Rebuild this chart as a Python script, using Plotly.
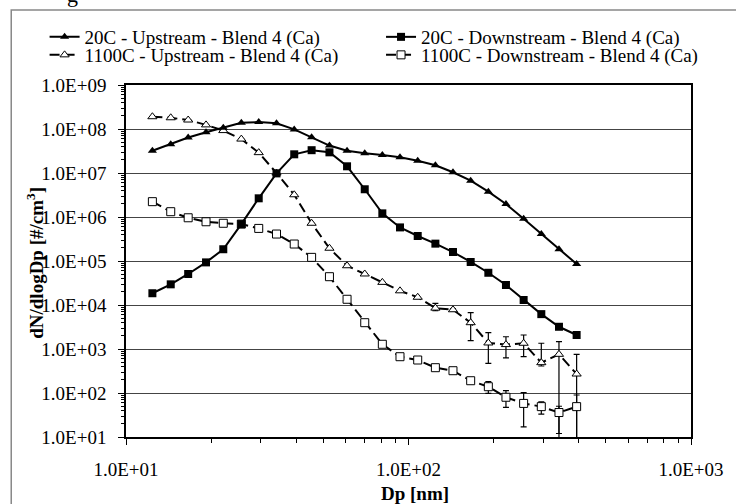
import plotly.graph_objects as go

# ---- data ----
dp_nm = [12.4, 14.4, 16.6, 19.2, 22.1, 25.6, 29.5, 34.1, 39.4, 45.4, 52.5, 60.6,
         70.0, 80.8, 93.3, 107.8, 124.5, 143.7, 166.0, 191.7, 221.3, 255.6,
         295.2, 340.9, 393.7]

up_20c = [3.2e7, 4.5e7, 6.4e7, 8.4e7, 1.07e8, 1.39e8, 1.44e8, 1.35e8, 9.8e7,
          6.5e7, 4.2e7, 3.2e7, 2.8e7, 2.57e7, 2.28e7, 1.9e7, 1.5e7, 1.04e7,
          6.7e6, 3.76e6, 1.97e6, 9.1e5, 4.1e5, 1.85e5, 8.55e4]

down_20c = [1.85e4, 2.95e4, 5.07e4, 9.3e4, 1.85e5, 6.9e5, 2.66e6, 9.8e6, 2.66e7,
            3.3e7, 2.95e7, 1.42e7, 4.27e6, 1.21e6, 5.8e5, 3.7e5, 2.48e5, 1.6e5,
            9.5e4, 5.4e4, 2.85e4, 1.3e4, 6.2e3, 3.2e3, 2.08e3]

up_1100c = [1.9e8, 1.8e8, 1.6e8, 1.24e8, 9.2e7, 5.9e7, 2.9e7, 1.0e7, 3.2e6,
            7.2e5, 1.95e5, 7.8e4, 5.07e4, 3.27e4, 2.1e4, 1.5e4, 8.5e3, 7.8e3,
            3.96e3, 1.37e3, 1.26e3, 1.35e3, 489, 757, 270]
# upper / lower ends of error bars (None = no bar, 1 = runs off the bottom)
up_1100c_hi = [None] * 16 + [1.09e4, 8.3e3, 6.7e3, 2.35e3, 1.9e3, 2.08e3, 1.35e3, 1.47e3, 757]
up_1100c_lo = [None] * 16 + [7.4e3, 7.3e3, 1.55e3, 473, 631, 668, 411, 1, 1]

down_1100c = [2.23e6, 1.32e6, 9.6e5, 7.8e5, 7.2e5, 6.9e5, 5.5e5, 4.1e5, 2.43e5,
              1.21e5, 4.4e4, 1.35e4, 3.96e3, 1.28e3, 668, 562, 376, 321, 190,
              139, 80, 58, 49, 36, 49]
down_1100c_hi = [None] * 19 + [181, 113, 102, 63, 50, 90]
down_1100c_lo = [None] * 19 + [98, 47, 17, 33, 12, 1]

names = ["20C - Upstream - Blend 4 (Ca)", "20C - Downstream - Blend 4 (Ca)",
         "1100C - Upstream - Blend 4 (Ca)", "1100C - Downstream - Blend 4 (Ca)"]

x_tick_vals = [10, 100, 1000]
x_tick_text = ["1.0E+01", "1.0E+02", "1.0E+03"]
y_tick_vals = [10 ** k for k in range(1, 10)]
y_tick_text = ["1.0E+0%d" % k for k in range(1, 10)]

# ---- layout geometry (pixels) ----
W, H = 736, 504
L, R, T, B = 126, 34, 85, 67
PW, PH = W - L - R, H - T - B


def px(x):
    return (x - L) / PW


def py(y):
    return (H - B - y) / PH


FONT = "Liberation Serif, Times New Roman, serif"
FS = 19


def err(vals, hi, lo):
    plus = [0 if h is None else h - v for v, h in zip(vals, hi)]
    minus = [0 if l is None else v - l for v, l in zip(vals, lo)]
    return plus, minus


fig = go.Figure()

p3, m3 = err(up_1100c, up_1100c_hi, up_1100c_lo)
p4, m4 = err(down_1100c, down_1100c_hi, down_1100c_lo)

fig.add_trace(go.Scatter(
    x=dp_nm, y=up_1100c, name=names[2], mode="lines+markers", legend="legend3",
    line=dict(color="black", width=2, dash="10px,5px"),
    marker=dict(symbol="triangle-up", size=8, color="white", line=dict(color="black", width=1)),
    error_y=dict(type="data", array=p3, arrayminus=m3, color="black", thickness=1.2, width=3),
))
fig.add_trace(go.Scatter(
    x=dp_nm, y=down_1100c, name=names[3], mode="lines+markers", legend="legend4",
    line=dict(color="black", width=2, dash="10px,5px"),
    marker=dict(symbol="square", size=8, color="white", line=dict(color="black", width=1)),
    error_y=dict(type="data", array=p4, arrayminus=m4, color="black", thickness=1.2, width=3),
))
fig.add_trace(go.Scatter(
    x=dp_nm, y=up_20c, name=names[0], mode="lines+markers", legend="legend",
    line=dict(color="black", width=2),
    marker=dict(symbol="triangle-up", size=8, color="black"),
))
fig.add_trace(go.Scatter(
    x=dp_nm, y=down_20c, name=names[1], mode="lines+markers", legend="legend2",
    line=dict(color="black", width=2),
    marker=dict(symbol="square", size=8, color="black"),
))

minor_x = [m * 10 ** d for d in (1, 2) for m in range(2, 10)]
minor_y = [m * 10 ** d for d in range(1, 9) for m in range(2, 10)]

legend_common = dict(xanchor="left", yanchor="middle", bgcolor="rgba(0,0,0,0)",
                     borderwidth=0, itemwidth=30,
                     font=dict(family=FONT, size=FS, color="black"))

fig.update_layout(
    width=W, height=H,
    margin=dict(l=L, r=R, t=T, b=B),
    paper_bgcolor="white", plot_bgcolor="white",
    font=dict(family=FONT, size=FS, color="black"),
    showlegend=True,
    legend=dict(x=px(43), y=py(37), **legend_common),
    legend2=dict(x=px(386), y=py(37), **legend_common),
    legend3=dict(x=px(43), y=py(55), **legend_common),
    legend4=dict(x=px(386), y=py(55), **legend_common),
    xaxis=dict(
        type="log", range=[1, 3], tickvals=x_tick_vals, ticktext=x_tick_text,
        ticks="outside", ticklen=6, tickcolor="black", tickwidth=1,
        showline=True, linecolor="black", linewidth=1.5, mirror=True,
        showgrid=False, zeroline=False, ticklabelstandoff=8,
        minor=dict(tickvals=minor_x, ticks="outside", ticklen=4, tickcolor="black", showgrid=False),
    ),
    yaxis=dict(
        type="log", range=[1, 9], tickvals=y_tick_vals, ticktext=y_tick_text,
        ticks="outside", ticklen=6, tickcolor="black", tickwidth=1,
        showline=True, linecolor="black", linewidth=1.5, mirror=True,
        showgrid=True, gridcolor="#444444", gridwidth=1, zeroline=False,
        ticklabelstandoff=8,
        minor=dict(tickvals=minor_y, ticks="outside", ticklen=3, tickcolor="black", showgrid=False),
    ),
    shapes=[dict(type="rect", xref="paper", yref="paper",
                 x0=px(9), x1=px(760), y0=py(530), y1=py(10),
                 line=dict(color="#888888", width=1.5), layer="below")],
    annotations=[
        dict(text="<b>Dp [nm]</b>", xref="paper", yref="paper", x=px(421), y=py(493),
             xanchor="center", yanchor="middle", showarrow=False,
             font=dict(family=FONT, size=FS, color="black")),
        dict(text="<b>dN/dlogDp [#/cm<sup>3</sup>]</b>", xref="paper", yref="paper",
             x=px(33), y=py(263), xanchor="center", yanchor="middle", textangle=-90,
             showarrow=False, font=dict(family=FONT, size=FS, color="black")),
        dict(text="g", xref="paper", yref="paper", x=px(71), y=py(9),
             xanchor="center", yanchor="bottom", showarrow=False,
             font=dict(family=FONT, size=22, color="black")),
    ],
)

fig.write_html(
    "out.html",
    config={"displayModeBar": False},
    post_script="document.body.style.margin='0px';document.body.style.overflow='hidden';",
)
